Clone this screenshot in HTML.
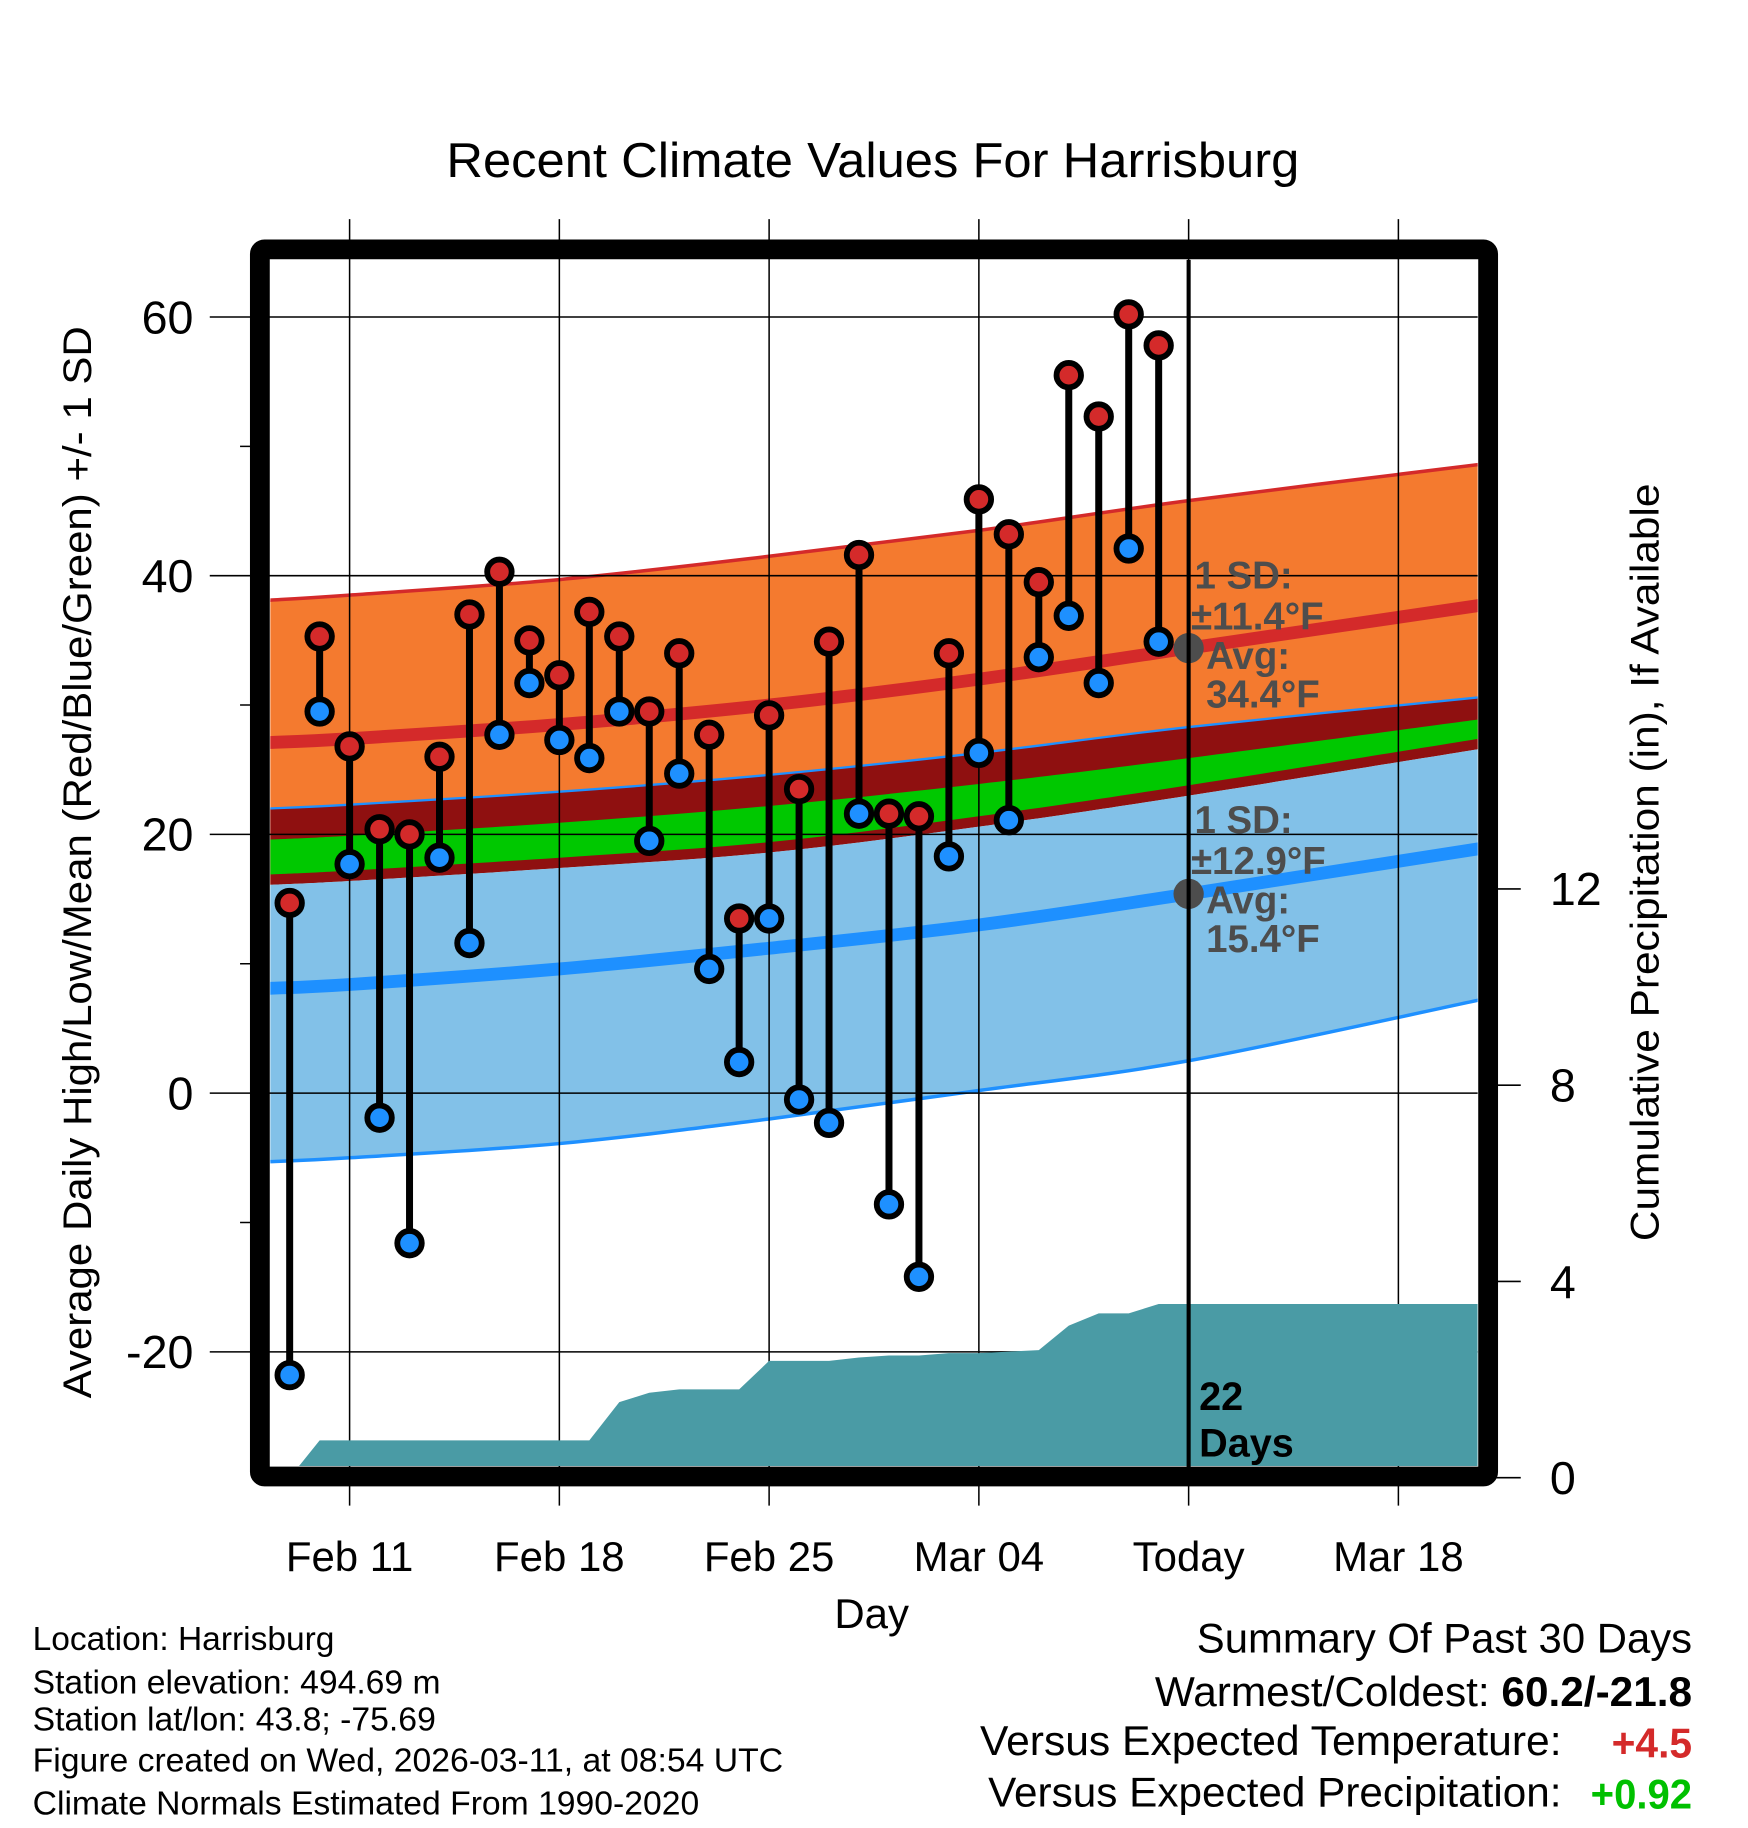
<!DOCTYPE html>
<html><head><meta charset="utf-8">
<style>
html,body{margin:0;padding:0;background:#fff;}
svg{display:block;font-family:"Liberation Sans",Arial,sans-serif;}
</style></head>
<body>
<svg id="chart" width="1748" height="1828" viewBox="0 0 1500 1568.6" preserveAspectRatio="none" xmlns="http://www.w3.org/2000/svg">
<defs><clipPath id="plotclip"><rect x="232" y="223" width="1036" height="1035"/></clipPath></defs>
<g id="bands" clip-path="url(#plotclip)"></g>
<g id="grid"></g>
<g id="precip" clip-path="url(#plotclip)"></g>
<g id="marks"></g>
<g id="frame"></g>
<g id="labels"></g>
</svg>
<script>
// ---- data ----
const dayLabels = ["Feb 11","Feb 18","Feb 25","Mar 04","Today","Mar 18"];
const dayLabelPos = [0,7,14,21,28,35];
const tempTicks = [-20,0,20,40,60];
const precipTicks = [0,4,8,12];
const obsDays = [-2,-1,0,1,2,3,4,5,6,7,8,9,10,11,12,13,14,15,16,17,18,19,20,21,22,23,24,25,26,27];
const highs = [14.7,35.3,26.8,20.4,20.0,26.0,37.0,40.3,35.0,32.3,37.2,35.3,29.5,34.0,27.7,13.5,29.2,23.5,34.9,41.6,21.6,21.4,34.0,45.9,43.2,39.5,55.5,52.3,60.2,57.8];
const lows = [-21.8,29.5,17.7,-1.9,-11.6,18.2,11.6,27.7,31.7,27.3,25.9,29.5,19.5,24.7,9.6,2.4,13.5,-0.5,-2.3,21.6,-8.6,-14.2,18.3,26.3,21.1,33.7,36.9,31.7,42.1,34.9];
const precipCum = [0,0.76,0.76,0.76,0.76,0.76,0.76,0.76,0.76,0.76,0.76,1.54,1.73,1.8,1.8,1.8,2.38,2.38,2.38,2.45,2.49,2.49,2.54,2.54,2.57,2.6,3.1,3.35,3.35,3.54];
const normDays = [-2.7,0,7,14,21,28,37.7];
const hiMean  = [27.1,27.4,28.5,30.0,32.0,34.4,37.7];
const hiUpper = [38.1,38.5,39.7,41.5,43.5,45.8,48.6];
const hiLower = [16.1,16.4,17.4,18.6,20.6,23.0,26.6];
const loMean  = [8.1,8.4,9.6,11.2,13.0,15.4,18.9];
const loUpper = [22.0,22.3,23.3,24.6,26.3,28.3,30.6];
const loLower = [-5.3,-5.0,-3.9,-2.0,0.2,2.5,7.2];
const greenTop = [19.6,19.9,20.9,22.2,23.9,25.9,28.9];
const greenBot = [16.9,17.2,18.2,19.4,21.4,23.8,27.4];

// ---- scales ----
const X = d => 300 + d*25.714;
const Y = t => 938 - t*11.1;
const P = p => 1268 - p*42.1;
const NS = "http://www.w3.org/2000/svg";
function mk(tag, attrs, parent){const e=document.createElementNS(NS,tag);for(const k in attrs)e.setAttribute(k,attrs[k]);parent.appendChild(e);return e;}
function line(arr){return normDays.map((d,i)=>[X(d),Y(arr[i])]);}
function smooth(pts){let s="M"+pts[0][0]+","+pts[0][1];for(let i=0;i<pts.length-1;i++){const p0=pts[i-1]||pts[i],p1=pts[i],p2=pts[i+1],p3=pts[i+2]||p2;const c1=[p1[0]+(p2[0]-p0[0])/6,p1[1]+(p2[1]-p0[1])/6],c2=[p2[0]-(p3[0]-p1[0])/6,p2[1]-(p3[1]-p1[1])/6];s+=`C${c1[0]},${c1[1]} ${c2[0]},${c2[1]} ${p2[0]},${p2[1]}`;}return s;}
function band(top,bot){const a=smooth(line(top));const b=smooth(line(bot).reverse());return a+" L"+b.slice(1)+"Z";}

const bands=document.getElementById('bands');
let e;
e=mk('path',{d:band(hiUpper,hiLower),fill:'#f47a2f'},bands);


e=mk('path',{d:smooth(line(hiUpper)),fill:'none',stroke:'#d42a2a','stroke-width':3},bands);


e=mk('path',{d:band(loUpper,hiLower),fill:'#8f1010'},bands);


e=mk('path',{d:band(greenTop,greenBot),fill:'#00c800'},bands);


e=mk('path',{d:band(hiLower,loLower),fill:'#82c1e8'},bands);


e=mk('path',{d:smooth(line(loUpper)),fill:'none',stroke:'#1e90ff','stroke-width':2},bands);


e=mk('path',{d:smooth(line(loLower)),fill:'none',stroke:'#1e90ff','stroke-width':3},bands);


e=mk('path',{d:smooth(line(hiMean)),fill:'none',stroke:'#d42a2a','stroke-width':11},bands);


e=mk('path',{d:smooth(line(loMean)),fill:'none',stroke:'#1e90ff','stroke-width':11},bands);



// grid
const grid=document.getElementById('grid');
dayLabelPos.forEach(d=>{e=mk('line',{x1:X(d),x2:X(d),y1:188,y2:1292,stroke:'#000','stroke-width':1.3},grid);

});
tempTicks.forEach(t=>{e=mk('line',{x1:180,x2:1268,y1:Y(t),y2:Y(t),stroke:'#000','stroke-width':1.3},grid);

});
[-10,10,30,50].forEach(t=>{e=mk('line',{x1:206,x2:220,y1:Y(t),y2:Y(t),stroke:'#000','stroke-width':1.3},grid);

});
precipTicks.forEach(p=>{e=mk('line',{x1:1280,x2:1305,y1:P(p),y2:P(p),stroke:'#000','stroke-width':1.3},grid);

});

// precip
const pg=document.getElementById('precip');
let pd=`M${X(obsDays[0])+10},${P(0)}`;
obsDays.forEach((d,i)=>{pd+=` L${X(d)},${P(precipCum[i])}`;});
pd+=` L1268,${P(precipCum[precipCum.length-1])} L1268,${P(0)} Z`;
e=mk('path',{d:pd,fill:'#4a9ba5'},pg);



// today line
e=mk('line',{x1:X(28),x2:X(28),y1:223,y2:1260,stroke:'#000','stroke-width':3.5},grid.parentNode);



// marks
const mg=document.getElementById('marks');
obsDays.forEach((d,i)=>{
  e=mk('line',{x1:X(d),x2:X(d),y1:Y(highs[i]),y2:Y(lows[i]),stroke:'#000','stroke-width':6},mg);
  
  
});
obsDays.forEach((d,i)=>{
  e=mk('circle',{cx:X(d),cy:Y(highs[i]),r:10.5,fill:'#d42a2a',stroke:'#000','stroke-width':5},mg);
  
  
  e=mk('circle',{cx:X(d),cy:Y(lows[i]),r:10.5,fill:'#1e90ff',stroke:'#000','stroke-width':5},mg);
  
  
});
e=mk('circle',{cx:X(28),cy:Y(hiMean[5]),r:13,fill:'#4d4d4d'},mg);


e=mk('circle',{cx:X(28),cy:Y(loMean[5]),r:13,fill:'#4d4d4d'},mg);



// frame
const fr=document.getElementById('frame');
e=mk('rect',{x:223,y:214,width:1054,height:1053,fill:'none',stroke:'#000','stroke-width':17,rx:4},fr);



// labels
const lg=document.getElementById('labels');
function txt(s,a,name){const t=mk('text',a,lg);t.textContent=s;return t;}
const LA='spacingAndGlyphs';
txt("Recent Climate Values For Harrisburg",{x:383,y:152,'font-size':42,textLength:732,lengthAdjust:LA},'chart-title');
tempTicks.forEach(t=>txt(String(t),{x:166,y:Y(t)+14,'font-size':40,'text-anchor':'end'},'y-tick-label'));
precipTicks.forEach(p=>txt(String(p),{x:1330,y:P(p)+14,'font-size':40},'precip-tick-label'));
dayLabels.forEach((s,i)=>txt(s,{x:X(dayLabelPos[i]),y:1348,'font-size':36,'text-anchor':'middle'},'x-tick-label'));
txt("Day",{x:748,y:1397,'font-size':36,'text-anchor':'middle'},'x-axis-title');
txt("Average Daily High/Low/Mean (Red/Blue/Green) +/- 1 SD",{x:-460,y:0,'font-size':34,textLength:920,lengthAdjust:LA,transform:'translate(78,740) rotate(-90)'},'y-axis-title');
txt("Cumulative Precipitation (in), If Available",{x:-325,y:0,'font-size':34,textLength:650,lengthAdjust:LA,transform:'translate(1423,740) rotate(-90)'},'precip-axis-title');
const ann={fill:'#4d4d4d','font-size':33,'font-weight':'bold'};
txt("1 SD:",Object.assign({x:1025,y:505},ann),'high-sd-label');
txt("±11.4°F",Object.assign({x:1022,y:540},ann),'high-sd-value');
txt("Avg:",Object.assign({x:1035,y:574},ann),'high-avg-label');
txt("34.4°F",Object.assign({x:1035,y:607},ann),'high-avg-value');
txt("1 SD:",Object.assign({x:1025,y:715},ann),'low-sd-label');
txt("±12.9°F",Object.assign({x:1022,y:750},ann),'low-sd-value');
txt("Avg:",Object.assign({x:1035,y:784},ann),'low-avg-label');
txt("15.4°F",Object.assign({x:1035,y:817},ann),'low-avg-value');
txt("22",{x:1029,y:1210,'font-size':34,'font-weight':'bold'},'days-count');
txt("Days",{x:1029,y:1250,'font-size':34,'font-weight':'bold'},'days-label');
const info=["Location: Harrisburg","Station elevation: 494.69 m","Station lat/lon: 43.8; -75.69","Figure created on Wed, 2026-03-11, at 08:54 UTC","Climate Normals Estimated From 1990-2020"];
const iw=[259,350,346,644,572];
const iy=[1416,1453,1485,1520,1557];
info.forEach((s,i)=>txt(s,{x:28,y:iy[i],'font-size':29,textLength:iw[i],lengthAdjust:LA},'station-info-line'));
txt("Summary Of Past 30 Days",{x:1027,y:1418,'font-size':36,textLength:425,lengthAdjust:LA},'summary-title');
const w=txt("Warmest/Coldest: ",{x:991,y:1464,'font-size':36,textLength:461,lengthAdjust:LA},'warmest-coldest');
const b=mk('tspan',{'font-weight':'bold'},w);b.textContent="60.2/-21.8";
txt("Versus Expected Temperature:",{x:841,y:1506,'font-size':36,textLength:499,lengthAdjust:LA},'temp-anomaly-label');
txt("+4.5",{x:1383,y:1508,'font-size':36,'font-weight':'bold',textLength:69,lengthAdjust:LA,fill:'#d42a2a'},'temp-anomaly-value');
txt("Versus Expected Precipitation:",{x:848,y:1550,'font-size':36,textLength:492,lengthAdjust:LA},'precip-anomaly-label');
txt("+0.92",{x:1365,y:1552,'font-size':36,'font-weight':'bold',textLength:87,lengthAdjust:LA,fill:'#00c000'},'precip-anomaly-value');
</script>
</body></html>
